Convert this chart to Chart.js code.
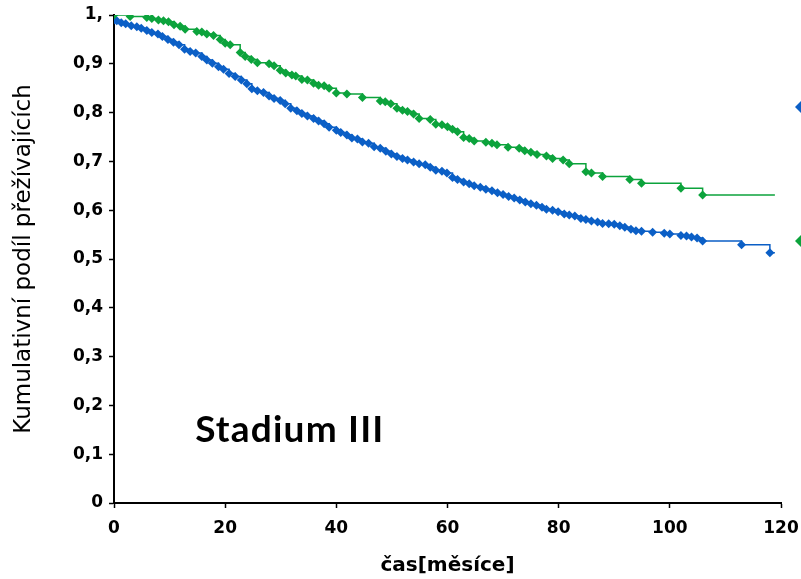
<!DOCTYPE html>
<html>
<head>
<meta charset="utf-8">
<script src="https://cdn.jsdelivr.net/npm/chart.js@4/dist/chart.umd.min.js"></script>
<style>
  html,body{margin:0;padding:0;background:#fff;overflow:hidden;}
  #wrap{width:801px;height:579px;}
</style>
</head>
<body>
<div id="wrap"><canvas id="km" width="801" height="579"></canvas></div>
<script>
'use strict';

// ── data (months, cumulative survival) ─────────────────────────────────────
const xTicks=[0,20,40,60,80,100,120];
const yTickLabels=['0','0,1','0,2','0,3','0,4','0,5','0,6','0,7','0,8','0,9','1,'];

const blueTime=[0,0.5,1.3,2.1,3.1,4.1,4.9,5.9,6.8,7.9,
  8.7,9.7,10.7,11.7,12.7,13.7,14.7,15.8,16.7,17.7,
  18.8,19.7,20.7,21.8,22.9,23.9,24.8,25.8,26.9,27.9,
  28.8,29.9,30.8,31.8,32.9,33.8,34.8,35.9,36.8,37.8,
  38.7,40.0,40.8,41.9,42.8,43.8,44.7,45.8,46.8,47.9,
  48.9,49.9,50.9,51.9,52.8,53.9,54.9,56.0,56.9,57.9,
  59.0,59.9,60.9,61.8,62.9,63.9,64.8,65.9,66.9,68.0,
  69,70,71,72,73,74,75,76,77,77.8,
  78.9,79.9,81.0,81.9,82.9,84.0,84.9,85.9,87.0,87.9,
  89.0,90.0,91.0,91.9,93.0,93.9,94.9,96.9,99.0,100.0,
  102.0,103.0,103.9,104.9,105.9,112.9,118.0,118.9];
const blueSurv=[0.990,0.988,0.984,0.982,0.978,0.976,0.973,0.968,0.964,0.961,
  0.956,0.950,0.944,0.939,0.930,0.925,0.922,0.915,0.908,0.901,
  0.894,0.889,0.880,0.874,0.867,0.859,0.849,0.845,0.841,0.834,
  0.829,0.825,0.818,0.809,0.804,0.798,0.793,0.788,0.783,0.777,
  0.770,0.764,0.759,0.754,0.748,0.746,0.740,0.737,0.730,0.727,
  0.721,0.715,0.710,0.706,0.703,0.699,0.695,0.693,0.688,0.682,
  0.680,0.676,0.667,0.663,0.658,0.654,0.650,0.647,0.643,0.640,
  0.636,0.632,0.628,0.625,0.621,0.617,0.613,0.610,0.606,0.602,
  0.600,0.597,0.592,0.590,0.588,0.583,0.581,0.578,0.576,0.573,
  0.572,0.571,0.568,0.565,0.561,0.558,0.557,0.555,0.553,0.551,
  0.548,0.547,0.545,0.543,0.537,0.529,0.513,0.513];

const greenTime=[0,2.9,5.9,6.8,8.0,8.9,9.8,10.8,11.9,12.8,
  14.9,15.8,16.7,17.9,19.1,20.0,20.9,22.7,23.6,24.7,
  25.8,27.9,28.8,29.9,30.9,32.0,32.7,33.8,34.8,35.9,
  36.8,37.8,38.7,40.0,41.9,44.7,47.9,48.8,49.8,50.9,
  51.9,52.8,53.9,54.9,56.9,57.9,59.0,60.0,60.9,61.8,
  62.9,63.9,64.8,66.9,68.0,68.9,70.9,72.9,73.9,75.0,
  76.1,77.8,78.9,80.8,81.9,84.9,85.9,87.9,92.8,94.9,
  102.0,105.9,118.9];
const greenSurv=[1.0,0.997,0.995,0.993,0.990,0.988,0.986,0.980,0.977,0.971,
  0.966,0.965,0.961,0.958,0.950,0.942,0.939,0.923,0.915,0.909,
  0.902,0.900,0.896,0.887,0.881,0.877,0.875,0.868,0.867,0.860,
  0.856,0.855,0.850,0.840,0.838,0.831,0.824,0.822,0.818,0.809,
  0.805,0.802,0.797,0.788,0.786,0.776,0.775,0.771,0.766,0.761,
  0.749,0.747,0.742,0.739,0.737,0.734,0.729,0.727,0.722,0.719,
  0.714,0.711,0.706,0.703,0.695,0.679,0.676,0.669,0.663,0.655,
  0.645,0.631,0.631];

const blue='#0b5fc6', green='#0ca33c';
const tickFont={family:"'DejaVu Sans',Verdana,sans-serif",size:17,weight:'bold'};

const pts=(t,s)=>t.map((x,i)=>({x,y:s[i]}));
const lastNoMarker=n=>c=>c.dataIndex===n-1?0:4.5;

// label inside plot + cut-off legend diamonds on the right edge
const extras={
  id:'extras',
  afterDraw(chart){
    const {ctx,scales:{x,y}}=chart;
    ctx.save();
    ctx.fillStyle='#000';
    ctx.font="bold 37px Lato,'Open Sans',sans-serif";
    ctx.letterSpacing='1.2px';
    ctx.textBaseline='alphabetic';
    ctx.fillText('Stadium III',x.getPixelForValue(14.6),y.getPixelForValue(0.1256));
    ctx.letterSpacing='0px';
    const dia=(cx,cy,r,col)=>{ctx.fillStyle=col;ctx.beginPath();ctx.moveTo(cx,cy-r);ctx.lineTo(cx+r,cy);ctx.lineTo(cx,cy+r);ctx.lineTo(cx-r,cy);ctx.closePath();ctx.fill();};
    dia(chart.width+1,107,7,blue);
    dia(chart.width+1,241,7,green);
    ctx.restore();
  }
};

new Chart(document.getElementById('km').getContext('2d'),{
  type:'line',
  data:{datasets:[
    {label:'green',data:pts(greenTime,greenSurv),borderColor:green,backgroundColor:green,borderWidth:1.5,
     stepped:'before',pointStyle:'rectRot',pointRadius:lastNoMarker(greenTime.length),pointBorderWidth:0,pointBackgroundColor:green,tension:0},
    {label:'blue',data:pts(blueTime,blueSurv),borderColor:blue,backgroundColor:blue,borderWidth:1.5,
     stepped:'before',pointStyle:'rectRot',pointRadius:lastNoMarker(blueTime.length),pointBorderWidth:0,pointBackgroundColor:blue,tension:0}
  ]},
  options:{
    responsive:false,animation:false,
    layout:{padding:{left:0,right:20,top:15,bottom:0}},
    plugins:{legend:{display:false},tooltip:{enabled:false}},
    scales:{
      x:{type:'linear',min:0,max:120,
        afterBuildTicks:s=>{s.ticks=xTicks.map(v=>({value:v}));},
        afterFit:s=>{s.height=76;s.paddingLeft=0;s.paddingRight=0;},
        grid:{drawOnChartArea:false,tickLength:5,tickColor:'#000',tickWidth:1.5},
        border:{color:'#000',width:2},
        ticks:{color:'#000',font:tickFont,padding:10,maxRotation:0,callback:v=>String(v)},
        title:{display:true,text:'čas[měsíce]',color:'#000',font:{family:"'DejaVu Sans',Verdana,sans-serif",size:20,weight:'bold'},padding:{top:0,bottom:1}}
      },
      y:{type:'linear',min:0,max:1,
        afterBuildTicks:s=>{s.ticks=yTickLabels.map((t,i)=>({value:i/10}));},
        afterFit:s=>{s.width=114;s.paddingTop=0;s.paddingBottom=0;},
        grid:{drawOnChartArea:false,tickLength:5,tickColor:'#000',tickWidth:1.5},
        border:{color:'#000',width:2},
        ticks:{color:'#000',font:tickFont,padding:6,callback:(v,i)=>yTickLabels[i]},
        title:{display:true,text:'Kumulativní podíl přežívajících',color:'#000',font:{family:"'DejaVu Sans',Verdana,sans-serif",size:23},padding:{top:10,bottom:0}}
      }
    }
  },
  plugins:[extras]
});
</script>
</body>
</html>
